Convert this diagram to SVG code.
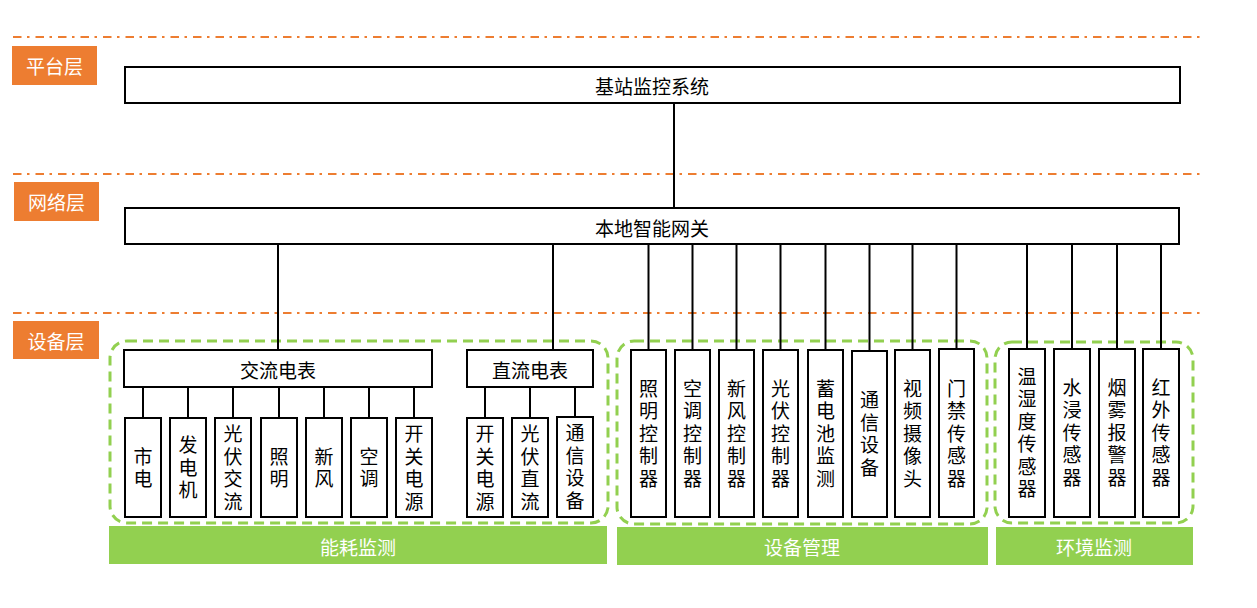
<svg xmlns="http://www.w3.org/2000/svg" width="1257" height="608" viewBox="0 0 1257 608">
<style>
.bg{fill:#fff}
.sep{stroke:#ED7D31;stroke-width:2;fill:none;stroke-dasharray:8.5 5.5 2.5 6}
.lbl{fill:#ED7D31}
.lt{fill:#fff;font-family:"Noto Sans CJK SC","Noto Sans",sans-serif;font-size:19px;text-anchor:middle;dominant-baseline:central}
.box{fill:#fff;stroke:#000;stroke-width:2}
.t{fill:#000;font-family:"Noto Sans CJK SC","Noto Sans",sans-serif;font-size:19px;text-anchor:middle;dominant-baseline:central}
.v{fill:#000;font-family:"Noto Sans CJK SC","Noto Sans",sans-serif;font-size:19px;text-anchor:middle;writing-mode:vertical-rl;text-orientation:upright;letter-spacing:3.5px}
.grp{fill:none;stroke:#92D050;stroke-width:3;stroke-dasharray:10 6}
.bar{fill:#92D050}
.ln{stroke:#000;stroke-width:2;fill:none}
</style>
<rect class="bg" x="0" y="0" width="1257" height="608"/>
<g id="separators">
<line class="sep" x1="13" y1="37" x2="1203" y2="37"/>
<line class="sep" x1="13" y1="174" x2="1203" y2="174"/>
<line class="sep" x1="13" y1="313" x2="1203" y2="313"/>
</g>
<g id="layer-platform"><rect class="lbl" x="12" y="46" width="85" height="39"/><text class="lt" x="54.5" y="65.5">平台层</text></g>
<g id="layer-network"><rect class="lbl" x="14" y="182" width="85" height="39"/><text class="lt" x="56.5" y="201.5">网络层</text></g>
<g id="layer-device"><rect class="lbl" x="13" y="321" width="86" height="38"/><text class="lt" x="56" y="340">设备层</text></g>
<g id="groups">
<rect class="grp" x="110" y="341" width="498" height="182" rx="17"/>
<rect class="grp" x="617" y="341" width="370" height="183" rx="17"/>
<rect class="grp" x="995" y="342" width="198" height="181" rx="17"/>
</g>
<g id="bars">
<g id="bar-energy"><rect class="bar" x="109" y="526" width="498" height="38"/><text class="lt" x="358" y="546">能耗监测</text></g>
<g id="bar-device"><rect class="bar" x="617" y="527" width="371" height="38"/><text class="lt" x="802" y="546">设备管理</text></g>
<g id="bar-env"><rect class="bar" x="996" y="527" width="197" height="38"/><text class="lt" x="1094" y="546">环境监测</text></g>
</g>
<g id="connectors">
<line class="ln" x1="674" y1="103" x2="674" y2="207"/>
<line class="ln" x1="278" y1="244" x2="278" y2="350"/>
<line class="ln" x1="553" y1="244" x2="553" y2="350"/>
<line class="ln" x1="648.5" y1="244" x2="648.5" y2="350"/>
<line class="ln" x1="692.5" y1="244" x2="692.5" y2="350"/>
<line class="ln" x1="736.5" y1="244" x2="736.5" y2="350"/>
<line class="ln" x1="780.5" y1="244" x2="780.5" y2="350"/>
<line class="ln" x1="825.5" y1="244" x2="825.5" y2="350"/>
<line class="ln" x1="869.5" y1="244" x2="869.5" y2="350"/>
<line class="ln" x1="912.5" y1="244" x2="912.5" y2="350"/>
<line class="ln" x1="956.5" y1="244" x2="956.5" y2="350"/>
<line class="ln" x1="1027" y1="244" x2="1027" y2="349"/>
<line class="ln" x1="1072" y1="244" x2="1072" y2="349"/>
<line class="ln" x1="1117" y1="244" x2="1117" y2="349"/>
<line class="ln" x1="1161" y1="244" x2="1161" y2="349"/>
<line class="ln" x1="143" y1="387" x2="143" y2="418"/>
<line class="ln" x1="188" y1="387" x2="188" y2="418"/>
<line class="ln" x1="233" y1="387" x2="233" y2="418"/>
<line class="ln" x1="279" y1="387" x2="279" y2="418"/>
<line class="ln" x1="324" y1="387" x2="324" y2="418"/>
<line class="ln" x1="369" y1="387" x2="369" y2="418"/>
<line class="ln" x1="414" y1="387" x2="414" y2="418"/>
<line class="ln" x1="485" y1="387" x2="485" y2="418"/>
<line class="ln" x1="530" y1="387" x2="530" y2="418"/>
<line class="ln" x1="575" y1="387" x2="575" y2="418"/>
</g>
<g id="n-platform"><rect class="box" x="125" y="67" width="1055" height="36"/><text class="t" x="652" y="85">基站监控系统</text></g>
<g id="n-gateway"><rect class="box" x="125" y="208" width="1054" height="36"/><text class="t" x="652" y="227">本地智能网关</text></g>
<g id="n-ac-meter"><rect class="box" x="124" y="350" width="308" height="37"/><text class="t" x="278" y="369">交流电表</text></g>
<g id="n-dc-meter"><rect class="box" x="467" y="350" width="126" height="37"/><text class="t" x="530" y="369">直流电表</text></g>
<g id="n-ac1"><rect class="box" x="125" y="418" width="36" height="99"/><text class="v" x="143" y="469.5">市电</text></g>
<g id="n-ac2"><rect class="box" x="170" y="418" width="36" height="99"/><text class="v" x="188" y="469.5">发电机</text></g>
<g id="n-ac3"><rect class="box" x="215" y="418" width="36" height="99"/><text class="v" x="233" y="469.5">光伏交流</text></g>
<g id="n-ac4"><rect class="box" x="261" y="418" width="36" height="99"/><text class="v" x="279" y="469.5">照明</text></g>
<g id="n-ac5"><rect class="box" x="306" y="418" width="36" height="99"/><text class="v" x="324" y="469.5">新风</text></g>
<g id="n-ac6"><rect class="box" x="351" y="418" width="36" height="99"/><text class="v" x="369" y="469.5">空调</text></g>
<g id="n-ac7"><rect class="box" x="396" y="418" width="36" height="99"/><text class="v" x="414" y="469.5">开关电源</text></g>
<g id="n-dc1"><rect class="box" x="467" y="418" width="36" height="99"/><text class="v" x="485" y="469.5">开关电源</text></g>
<g id="n-dc2"><rect class="box" x="512" y="418" width="36" height="99"/><text class="v" x="530" y="469.5">光伏直流</text></g>
<g id="n-dc3"><rect class="box" x="557" y="417" width="36" height="100"/><text class="v" x="575" y="468.5">通信设备</text></g>
<g id="n-dm1"><rect class="box" x="631" y="350" width="35" height="167"/><text class="v" x="648.5" y="435.5">照明控制器</text></g>
<g id="n-dm2"><rect class="box" x="675" y="350" width="35" height="167"/><text class="v" x="692.5" y="435.5">空调控制器</text></g>
<g id="n-dm3"><rect class="box" x="719" y="350" width="35" height="167"/><text class="v" x="736.5" y="435.5">新风控制器</text></g>
<g id="n-dm4"><rect class="box" x="763" y="350" width="35" height="167"/><text class="v" x="780.5" y="435.5">光伏控制器</text></g>
<g id="n-dm5"><rect class="box" x="808" y="350" width="35" height="167"/><text class="v" x="825.5" y="435.5">蓄电池监测</text></g>
<g id="n-dm6"><rect class="box" x="852" y="351" width="35" height="166"/><text class="v" x="869.5" y="435.5">通信设备</text></g>
<g id="n-dm7"><rect class="box" x="895" y="350" width="35" height="167"/><text class="v" x="912.5" y="435.5">视频摄像头</text></g>
<g id="n-dm8"><rect class="box" x="939" y="349" width="35" height="168"/><text class="v" x="956.5" y="435.5">门禁传感器</text></g>
<g id="n-env1"><rect class="box" x="1009" y="349" width="36" height="168"/><text class="v" x="1027" y="434.5">温湿度传感器</text></g>
<g id="n-env2"><rect class="box" x="1054" y="349" width="36" height="168"/><text class="v" x="1072" y="434.5">水浸传感器</text></g>
<g id="n-env3"><rect class="box" x="1099" y="349" width="36" height="168"/><text class="v" x="1117" y="434.5">烟雾报警器</text></g>
<g id="n-env4"><rect class="box" x="1143" y="349" width="36" height="168"/><text class="v" x="1161" y="434.5">红外传感器</text></g>
</svg>
